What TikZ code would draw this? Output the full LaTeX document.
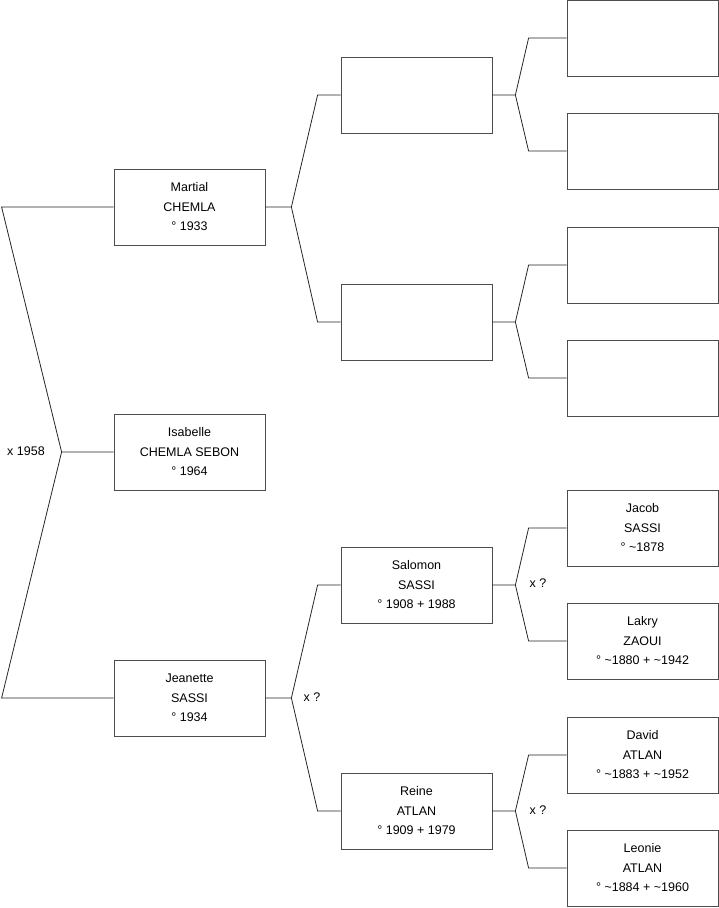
\documentclass[tikz,border=0pt]{standalone}
\usepackage{fontspec}
\setmainfont{Liberation Sans}
\usetikzlibrary{calc}

\begin{document}
\begin{tikzpicture}[x=1pt, y=-1pt,
  person/.style={draw=black!70, line width=0.8pt, minimum width=151pt, minimum height=76pt,
    inner sep=0pt, align=center, font=\fontsize{12.5}{19.5}\selectfont},
  link/.style={black!85, line width=0.8pt},
  union/.style={font=\fontsize{12.5}{14}\selectfont},
]
\useasboundingbox (0,0) rectangle (719,908);

% --- Column 1: child and parents ---
\node[person] (martial)  at (189.5,207) {Martial\\CHEMLA\\° 1933};
\node[person] (isabelle) at (189.5,452) {Isabelle\\CHEMLA SEBON\\° 1964};
\node[person] (jeanette) at (189.5,698) {Jeanette\\SASSI\\° 1934};

% --- Column 2: grandparents ---
\node[person] (gpa) at (416.5,95)  {};
\node[person] (gpb) at (416.5,322) {};
\node[person] (salomon) at (416.5,585) {Salomon\\SASSI\\° 1908 + 1988};
\node[person] (reine)   at (416.5,811) {Reine\\ATLAN\\° 1909 + 1979};

% --- Column 3: great-grandparents ---
\node[person] (ga1) at (642.5,38)  {};
\node[person] (ga2) at (642.5,151) {};
\node[person] (gb1) at (642.5,265) {};
\node[person] (gb2) at (642.5,378) {};
\node[person] (jacob) at (642.5,528) {Jacob\\SASSI\\° \textasciitilde1878};
\node[person] (lakry) at (642.5,641) {Lakry\\ZAOUI\\° \textasciitilde1880 + \textasciitilde1942};
\node[person] (david) at (642.5,755) {David\\ATLAN\\° \textasciitilde1883 + \textasciitilde1952};
\node[person] (leonie) at (642.5,868) {Leonie\\ATLAN\\° \textasciitilde1884 + \textasciitilde1960};

% --- Fork points ---
\coordinate (f0) at ($(isabelle.west)+(-52,0)$);
\coordinate (f1) at ($(martial.east)+(26,0)$);
\coordinate (f2) at ($(jeanette.east)+(26,0)$);
\coordinate (f3) at ($(gpa.east)+(23,0)$);
\coordinate (f4) at ($(gpb.east)+(23,0)$);
\coordinate (f5) at ($(salomon.east)+(23,0)$);
\coordinate (f6) at ($(reine.east)+(23,0)$);

% --- Links ---
\draw[link] (isabelle.west) -- (f0) -- ($(martial.west)+(-112,0)$) -- (martial.west);
\draw[link] (f0) -- ($(jeanette.west)+(-112,0)$) -- (jeanette.west);

\draw[link] (martial.east) -- (f1) -- ($(gpa.west)+(-23,0)$) -- (gpa.west);
\draw[link] (f1) -- ($(gpb.west)+(-23,0)$) -- (gpb.west);
\draw[link] (jeanette.east) -- (f2) -- ($(salomon.west)+(-23,0)$) -- (salomon.west);
\draw[link] (f2) -- ($(reine.west)+(-23,0)$) -- (reine.west);

\draw[link] (gpa.east) -- (f3) -- ($(ga1.west)+(-38,0)$) -- (ga1.west);
\draw[link] (f3) -- ($(ga2.west)+(-38,0)$) -- (ga2.west);
\draw[link] (gpb.east) -- (f4) -- ($(gb1.west)+(-38,0)$) -- (gb1.west);
\draw[link] (f4) -- ($(gb2.west)+(-38,0)$) -- (gb2.west);
\draw[link] (salomon.east) -- (f5) -- ($(jacob.west)+(-38,0)$) -- (jacob.west);
\draw[link] (f5) -- ($(lakry.west)+(-38,0)$) -- (lakry.west);
\draw[link] (reine.east) -- (f6) -- ($(david.west)+(-38,0)$) -- (david.west);
\draw[link] (f6) -- ($(leonie.west)+(-38,0)$) -- (leonie.west);

% --- Marriage labels ---
\node[union] (m0) at (26,451)  {x 1958};
\node[union] (m1) at (312,697) {x ?};
\node[union] (m2) at (538,583) {x ?};
\node[union] (m3) at (538,810) {x ?};
\end{tikzpicture}
\end{document}
